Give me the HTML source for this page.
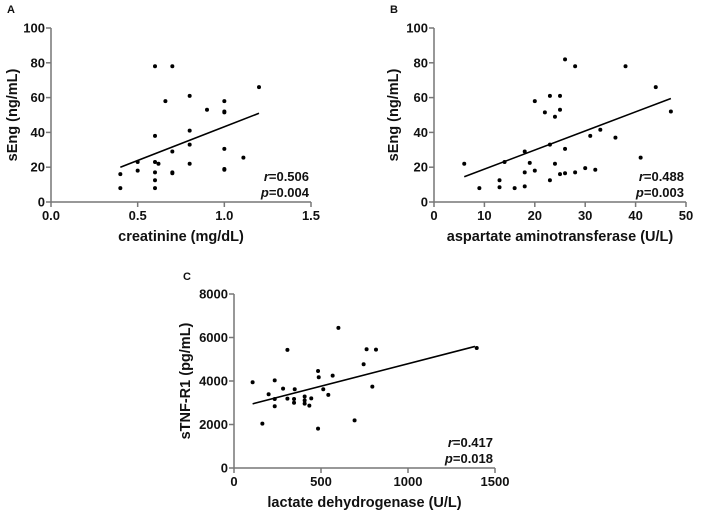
<!DOCTYPE html>
<html><head><meta charset="utf-8">
<style>
html,body{margin:0;padding:0;background:#fff;}
svg{display:block;font-family:"Liberation Sans",Arial,sans-serif;font-weight:bold;}
</style></head>
<body>
<svg id="fig" width="706" height="513" viewBox="0 0 706 513"></svg>
<script>
// Panel A data
const aX = [0.4,0.4,0.5,0.5,0.6,0.6,0.6,0.6,0.6,0.6,0.62,0.66,0.7,0.7,0.7,0.7,0.8,0.8,0.8,0.8,0.9,1.0,1.0,1.0,1.0,1.0,1.0,1.11,1.2];
const aY = [16,8,23,18,78,38,23,17,12.5,8,22,58,78,29,17,16.5,61,41,33,22,53,58,52,51.5,30.5,19,18.5,25.5,66];
const aFit = [[0.4,20],[1.2,51]];
const aXTicks = ["0.0","0.5","1.0","1.5"];
const aYTicks = [0,20,40,60,80,100];
// Panel B data
const bX = [6,9,13,13,14,16,18,18,18,19,20,20,22,23,23,23,24,24,25,25,25,26,26,26,28,28,30,31,32,33,36,38,41,44,47];
const bY = [22,8,12.5,8.5,23,8,29,17,9,22.5,58,18,51.5,61,33,12.5,49,22,61,53,16,82,30.5,16.5,78,17,19.5,38,18.5,41.5,37,78,25.5,66,52];
const bFit = [[6,14.5],[47,59.5]];
const bXTicks = [0,10,20,30,40,50];
const bYTicks = [0,20,40,60,80,100];
// Panel C data
const cX = [107,163,199,234,234,234,282,307,307,349,345,345,406,406,406,433,444,483,487,483,513,542,567,600,693,745,762,795,816,1395];
const cY = [3940,2040,3390,4030,3170,2840,3650,5430,3190,3620,3170,3000,3290,3110,2960,2870,3200,4460,4170,1810,3620,3360,4250,6440,2190,4770,5460,3740,5440,5520];
const cFit = [[107,2950],[1385,5590]];
const cXTicks = [0,500,1000,1500];
const cYTicks = [0,2000,4000,6000,8000];

const NS="http://www.w3.org/2000/svg";
const svg=document.getElementById('fig');
function mk(tag,attrs,parent){const e=document.createElementNS(NS,tag);for(const k in attrs)e.setAttribute(k,attrs[k]);(parent||svg).appendChild(e);return e;}

function panel(o){
  const g=mk('g',{});
  
  
  const sx=v=>o.x0+(v-o.xmin)/(o.xmax-o.xmin)*(o.x1-o.x0);
  const sy=v=>o.y0-(v-o.ymin)/(o.ymax-o.ymin)*(o.y0-o.y1);
  const ax=mk('g',{stroke:'#777','stroke-width':1.5,fill:'none'},g);
  
  
  mk('line',{x1:o.x0,y1:o.y1,x2:o.x0,y2:o.y0},ax);
  mk('line',{x1:o.x0,y1:o.y0,x2:o.x1,y2:o.y0},ax);
  o.yt.forEach(v=>{
    mk('line',{x1:o.x0-5,y1:sy(v),x2:o.x0,y2:sy(v)},ax);
    const t=mk('text',{x:o.x0-6,y:sy(v)+4.5,'text-anchor':'end','font-size':13,fill:'#111'},g);
    
    
    t.textContent=v;
  });
  o.xt.forEach(v=>{
    const n=parseFloat(v);
    mk('line',{x1:sx(n),y1:o.y0,x2:sx(n),y2:o.y0+5},ax);
    const t=mk('text',{x:sx(n),y:o.y0+18,'text-anchor':'middle','font-size':13,fill:'#111'},g);
    
    
    t.textContent=v;
  });
  o.xs.forEach((v,i)=>{
    const c=mk('circle',{cx:sx(v),cy:sy(o.ys[i]),r:2,fill:'#000'},g);
    
    
  });
  const l=mk('line',{x1:sx(o.fit[0][0]),y1:sy(o.fit[0][1]),x2:sx(o.fit[1][0]),y2:sy(o.fit[1][1]),stroke:'#000','stroke-width':1.6},g);
  
  
  const xt=mk('text',{x:(o.x0+o.x1)/2,y:o.y0+39,'text-anchor':'middle','font-size':14.5,fill:'#111'},g);
  
  
  xt.textContent=o.xtitle;
  const cy=(o.y0+o.y1)/2;
  const yt=mk('text',{x:o.ytx,y:cy,'text-anchor':'middle','font-size':14.5,fill:'#111',transform:`rotate(-90 ${o.ytx} ${cy})`},g);
  
  
  yt.textContent=o.ytitle;
  const pl=mk('text',{x:o.lx,y:o.ly,'font-size':11,fill:'#111'},g);
  
  
  pl.textContent=o.label;
  const r=mk('text',{x:o.x1-2,y:o.y0-21,'text-anchor':'end','font-size':13,fill:'#111'},g);
  
  
  r.innerHTML='<tspan font-style="italic">r</tspan>='+o.r;
  const p=mk('text',{x:o.x1-2,y:o.y0-5,'text-anchor':'end','font-size':13,fill:'#111'},g);
  
  
  p.innerHTML='<tspan font-style="italic">p</tspan>='+o.p;
}
panel({name:'panel-a',x0:51,x1:311,y0:202,y1:28,xmin:0,xmax:1.5,ymin:0,ymax:100,xs:aX,ys:aY,fit:aFit,xt:aXTicks,yt:aYTicks,xtitle:'creatinine (mg/dL)',ytitle:'sEng (ng/mL)',ytx:17,label:'A',lx:7,ly:13,r:'0.506',p:'0.004'});
panel({name:'panel-b',x0:434,x1:686,y0:202,y1:28,xmin:0,xmax:50,ymin:0,ymax:100,xs:bX,ys:bY,fit:bFit,xt:bXTicks,yt:bYTicks,xtitle:'aspartate aminotransferase (U/L)',ytitle:'sEng (ng/mL)',ytx:398,label:'B',lx:390,ly:13,r:'0.488',p:'0.003'});
panel({name:'panel-c',x0:234,x1:495,y0:468,y1:294,xmin:0,xmax:1500,ymin:0,ymax:8000,xs:cX,ys:cY,fit:cFit,xt:cXTicks,yt:cYTicks,xtitle:'lactate dehydrogenase (U/L)',ytitle:'sTNF-R1 (pg/mL)',ytx:190,label:'C',lx:183,ly:280,r:'0.417',p:'0.018'});
</script>
</body></html>
